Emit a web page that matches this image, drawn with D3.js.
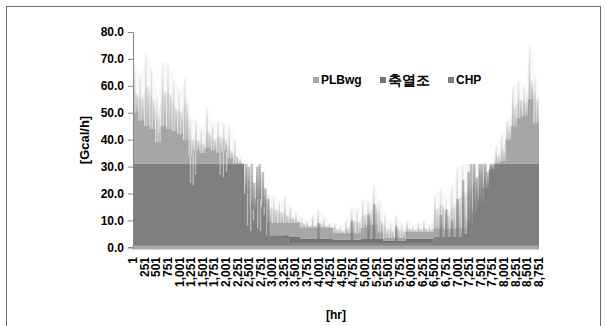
<!DOCTYPE html>
<html><head><meta charset="utf-8">
<script src="https://cdn.jsdelivr.net/npm/d3@7"></script>
<style>
body{margin:0;background:#fff}
svg{display:block}
text{font-family:"Liberation Sans",Arial,sans-serif;font-weight:bold;fill:#000}
</style>
</head><body><svg id="c" width="606" height="326"></svg>
<script>
// ---- data (values read per 120-hour block, 73 blocks over 8,760 h) ----
const seriesNames = ["CHP", "축열조", "PLBwg"];
const legendOrder = ["PLBwg", "축열조", "CHP"];
const blockHours = 120;
const chp = [31,31,31,31,31,31,31,31,31,31, 31,31,31,31,31,31,31,31,31,31,
  20,14,18,15, 4.5,4.5,4.5,3.5,1.5,1.5,
  1.3,1.3,1.3,1.3,1.3,1.3,1.3,1.3,1.3,1.3,1.3,1.3,1.3,1.3,1.3,1.3,1.3,1.3,1.3,1.3,1.3,1.3,1.3,1.3,
  4,4,4,4,4,5,8,13,17,22,29,
  31,31,31,31,31,31,31,31];
const storage = [0,0,0,0,0,0,0,0,0,0,0,0,0,0,0,0,0,0,0,0,0,0,0,0,
  0,0,0,1,2.5,2.5,
  2,2,2,2,2,2,
  1.5,1.5,1.5,1.5,1.5,
  2,2,2,2,
  1,1,1,1,
  2,2,2,2,2,
  0,0,0,0,0,0,0,0,0,0,0,0,0,0,0,0,0,0,0];
const plb = [19,16,14,13,8,14,13,12,11,9,
  3,5,4,6,5,4,5,2,0,0,
  0,0,0,0,
  4.5,4.5,4.5,4.5,5,5,
  4,4,4,4,4,4,
  2.4,2.4,2.4,2.4,2.4,
  4,5,5,2.2,
  1.2,1.2,1.2,1.2,
  2.4,2.4,2.4,2.4,2.4,
  3,3,2.5,3,3,2,
  2,1,1,0,0,
  0,1,9,14,17,18,24,15];
// hourly peaks inside each block (total load)
const peakA = [68,64,72,66,56,69,68,62,58,63,
  48,47,44,52,46,47,46,45,40,33,
  0,0,0,0,
  20,19,17,19,15,13,
  11,10,12,14,11,9,
  9,8,10,15,14,
  18,17,23.5,17,
  12,9,12,9,
  10,8,9,10,8,
  20,22,18,23,30,31,
  31,31,31,31,31,
  38,42,48,60,62,60,75,63];
const peakB = [57,55,60,55,48,58,57,52,50,54,
  40,40,38,43,40,41,40,36,34,0,
  0,0,0,0,
  15,14,13,12,11,10,
  9,8,8,9,8,7,
  7,6,7,10,9,
  12,13,16,10,
  7,6,7,6,
  7,6.5,7,7,6.5,
  14,16,12,15,18,20,
  22,24,28,0,0,
  34,36,44,52,55,54,62,55];
// hourly peaks of the CHP / storage output (dark)
const darkA = [0,0,0,0,0,0,0,0,0,0,0,0,0,0,0,0,0,0,0,0,
  31,31,30,28, 18,0,0,0,0,0,
  0,0,0,9,0,0, 0,0,0,10,0, 0,12,16,0, 0,0,8,0, 0,0,0,0,0,
  0,12,14,10,18,25,28,31,31,31,31,
  0,0,0,0,0,0,0,0];
const darkB = [0,0,0,0,0,0,0,0,0,0,0,0,0,0,0,0,0,0,0,0,
  30,24,31,22, 0,0,0,0,0,0,
  0,0,0,0,0,0, 0,0,0,0,0, 0,0,0,0, 0,0,0,0, 0,0,0,0,0,
  0,0,0,0,0,0,31,26,31,28,31,
  0,0,0,0,0,0,0,0];
// hours where the total dropped below the block level
const dipHours = [1240,1300,1350,1880,1950,2020,2470,2540,2600,2690,2750,2830];
const dipValues = [24,23,27,27,26,28,8,6,10,7,6,12];
const xTickLabels = [1,251,501,751,1001,1251,1501,1751,2001,2251,2501,2751,3001,3251,3501,3751,4001,4251,4501,4751,5001,5251,5501,5751,6001,6251,6501,6751,7001,7251,7501,7751,8001,8251,8501,8751];
const yTicks = [0,10,20,30,40,50,60,70,80];
const colors = {"CHP":"#7f7f7f","축열조":"#737373","PLBwg":"#a6a6a6"};

// ---- chart ----
const svg = d3.select("#c");
const defs = svg.append("defs");
function fadeGrad(id, color, top, bottom){
  const gr = defs.append("linearGradient").attr("id", id).attr("x1",0).attr("y1",0).attr("x2",0).attr("y2",1);
  gr.append("stop").attr("offset","0%").attr("stop-color",color).attr("stop-opacity",top);
  gr.append("stop").attr("offset","100%").attr("stop-color",color).attr("stop-opacity",bottom);
}
fadeGrad("fadeLight", colors.PLBwg, 0.12, 0.85);
fadeGrad("fadeDark", colors.CHP, 0.45, 0.95);

svg.append("rect").attr("x",0).attr("y",0).attr("width",606).attr("height",326).attr("fill","#fff");
svg.append("rect").attr("x",6.5).attr("y",6.5).attr("width",594).attr("height",340)
  .attr("fill","none").attr("stroke","#6d6d6d").attr("stroke-width",1);

const x = d3.scaleLinear().domain([0, 8760]).range([133, 539]);
const y = d3.scaleLinear().domain([0, 80]).range([247.3, 32]);
const bw = x(blockHours)-x(0);
const tot = i => chp[i]+storage[i]+plb[i];

const g = svg.append("g");

// faint envelopes of the hourly peaks (behind the solid layers)
function envelope(arr, op){
  const pts = arr.map((v,i)=>({h:i*blockHours+blockHours/2, v:Math.max(v, tot(i))}));
  pts.unshift({h:0, v:pts[0].v});
  pts.push({h:8760, v:pts[pts.length-1].v});
  const a = d3.area().curve(d3.curveLinear).x(d=>x(d.h)).y0(y(0)).y1(d=>y(d.v));
  g.append("path").attr("d", a(pts)).attr("fill", colors.PLBwg).attr("opacity", op);
}
envelope(peakA, 0.07);
envelope(peakB, 0.2);

const rows = chp.map((v,i)=>({h:i*blockHours, "CHP":v, "축열조":storage[i], "PLBwg":plb[i]}));
rows.push(Object.assign({}, rows[rows.length-1], {h:8760}));
const stacked = d3.stack().keys(seriesNames)(rows);
const area = d3.area().curve(d3.curveStepAfter)
  .x(d=>x(d.data.h)).y0(d=>y(d[0])).y1(d=>y(d[1]));
stacked.forEach(s=>{
  g.append("path").attr("d", area(s)).attr("fill", colors[s.key]);
});

function spikes(arr, frac, fill, op, w, base){
  g.append("g").selectAll("rect").data(arr.map((v,i)=>({v,i})).filter(d=>d.v>base(d.i)))
    .join("rect")
    .attr("x", d=>x(d.i*blockHours)+bw*frac - w/2)
    .attr("width", w)
    .attr("y", d=>y(d.v))
    .attr("height", d=>y(base(d.i))-y(d.v)+0.5)
    .attr("fill", fill).attr("opacity", op);
}
spikes(peakA, 0.3, "url(#fadeLight)", 0.9, 1.8, tot);
spikes(peakB, 0.75, "url(#fadeLight)", 1, 2.2, tot);
spikes(darkA, 0.35, "url(#fadeDark)", 1, 2.6, i=>chp[i]+storage[i]);
spikes(darkB, 0.8, "url(#fadeDark)", 1, 2.6, i=>chp[i]+storage[i]);

// dips (light gaps)
g.append("g").selectAll("rect").data(dipHours.map((h,k)=>({h, v:dipValues[k]})))
  .join("rect")
  .attr("x", d=>x(d.h)-0.7).attr("width",1.4)
  .attr("y", d=>y(tot(Math.floor(d.h/blockHours))))
  .attr("height", d=>y(d.v)-y(tot(Math.floor(d.h/blockHours))))
  .attr("fill","#fff").attr("opacity",0.45);

// y axis
const yAxis = svg.append("g").attr("transform",`translate(${x(0)},0)`)
  .call(d3.axisLeft(y).tickValues(yTicks).tickFormat(d3.format(".1f")).tickSize(5).tickPadding(4));
yAxis.select(".domain").attr("stroke","#868686");
yAxis.selectAll(".tick line").attr("stroke","#868686");
yAxis.selectAll("text").attr("font-size",12).attr("font-family",'"Liberation Sans",Arial,sans-serif').attr("font-weight","bold");

// x axis (thick light baseline)
svg.append("line").attr("x1",x(0)-1).attr("x2",x(8760)).attr("y1",y(0)+0.3).attr("y2",y(0)+0.3)
  .attr("stroke","#a8a8a8").attr("stroke-width",4);

svg.append("g").selectAll("text").data(xTickLabels).join("text")
  .attr("transform", d=>`translate(${x(d-0.5)},257) rotate(-90)`)
  .attr("text-anchor","end").attr("dy","0.35em").attr("font-size",12)
  .text(d=>d3.format(",")(d));

// axis titles
svg.append("text").attr("transform","translate(84,140) rotate(-90)").attr("text-anchor","middle")
  .attr("dy","0.35em").attr("font-size",13).text("[Gcal/h]");
svg.append("text").attr("x",336).attr("y",319).attr("text-anchor","middle").attr("font-size",12).text("[hr]");

// legend
const legX = [313, 380, 448];
const leg = svg.append("g");
legendOrder.forEach((k,i)=>{
  leg.append("rect").attr("x",legX[i]).attr("y",77).attr("width",6).attr("height",6).attr("fill",colors[k]);
  leg.append("text").attr("x",legX[i]+8).attr("y",80).attr("dy","0.35em")
    .attr("font-size", k==="축열조"?14:12)
    .attr("font-family", k==="축열조"?'"Noto Sans CJK KR",sans-serif':'"Liberation Sans",Arial,sans-serif')
    .text(k);
});
</script>
</body></html>
